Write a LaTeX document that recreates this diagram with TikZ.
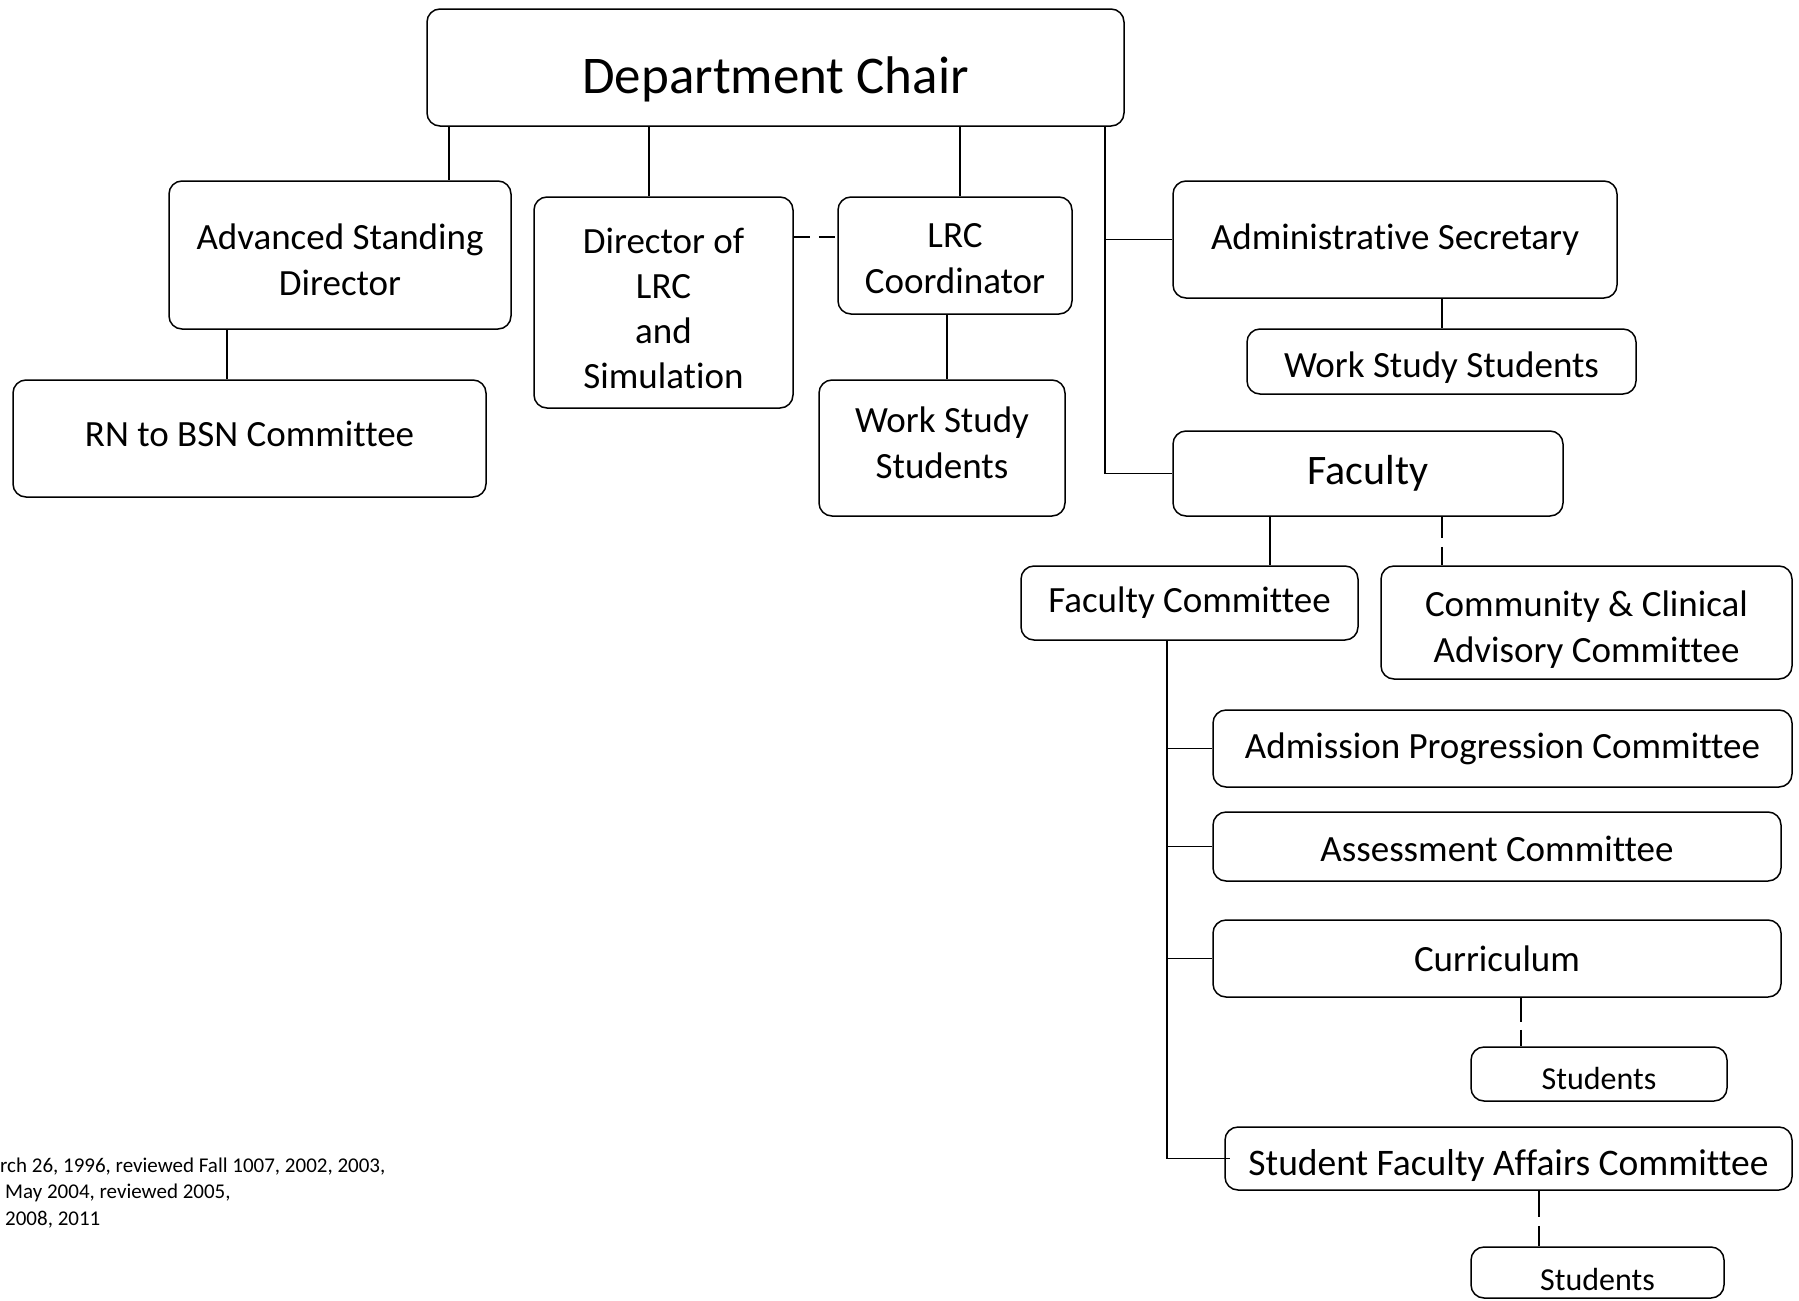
\documentclass[tikz,border=0pt]{standalone}
\usepackage{fontspec}
\setmainfont{Carlito}[Ligatures=NoCommon]
\usetikzlibrary{calc}
\newcommand\tdn[1]{\rule{0pt}{#1}}
\newcommand\tup[1]{\rule[-#1]{0pt}{0pt}}
\tikzset{
  box/.style={draw, line width=1.5pt, rounded corners=13pt, align=center, inner sep=2pt,
    font=\fontsize{37}{46}\selectfont},
  conn/.style={line width=1.5pt},
  dconn/.style={line width=1.5pt, dash pattern=on 21pt off 9pt},
  note/.style={anchor=west, inner sep=0pt, font=\fontsize{21}{26}\selectfont}
}
\begin{document}
\begin{tikzpicture}[x=1pt,y=-1pt]
\useasboundingbox (0,0) rectangle (1799,1301);
% nodes
\node[box, minimum width=697pt, minimum height=117pt, font=\fontsize{53}{60}\selectfont] (chair) at (775.5,67.5) {\tdn{60pt}Department Chair};
\node[box, minimum width=342pt, minimum height=148pt] (adv) at (340,255) {\tdn{35pt}Advanced Standing\\Director};
\node[box, minimum width=259pt, minimum height=211pt, font=\fontsize{37}{45}\selectfont] (dir) at (663.5,302.5) {\tdn{37.5pt}Director of\\LRC\\and\\Simulation};
\node[box, minimum width=234pt, minimum height=117pt] (lrc) at (955,255.5) {\tdn{31pt}LRC\\Coordinator};
\node[box, minimum width=444pt, minimum height=117pt] (admin) at (1395,239.5) {Administrative Secretary};
\node[box, minimum width=389pt, minimum height=65pt] (wss2) at (1441.5,361.5) {\tdn{37.5pt}Work Study Students};
\node[box, minimum width=473pt, minimum height=117pt] (rn) at (249.5,438.5) {RN to BSN Committee\tup{9pt}};
\node[box, minimum width=246pt, minimum height=136pt] (wss1) at (942,448) {Work Study\\Students\tup{11.5pt}};
\node[box, minimum width=390pt, minimum height=85pt, font=\fontsize{42}{50}\selectfont] (fac) at (1368,473.5) {Faculty};
\node[box, minimum width=337pt, minimum height=74pt] (faccom) at (1189.5,603) {Faculty Committee};
\node[box, minimum width=411pt, minimum height=113pt] (comm) at (1586.5,622.5) {\tdn{40pt}Community \& Clinical\\Advisory Committee};
\node[box, minimum width=579pt, minimum height=77pt] (adm) at (1502.5,748.5) {Admission Progression Committee};
\node[box, minimum width=568pt, minimum height=69pt] (assess) at (1497,846.5) {\tdn{30.5pt}Assessment Committee};
\node[box, minimum width=568pt, minimum height=77pt] (curr) at (1497,958.5) {Curriculum};
\node[box, minimum width=256pt, minimum height=54pt, font=\fontsize{32}{38}\selectfont] (stu1) at (1599,1074) {\tdn{31.5pt}Students};
\node[box, minimum width=567pt, minimum height=63pt, font=\fontsize{37.5}{46}\selectfont] (sfac) at (1508.5,1158.5) {\tdn{40pt}Student Faculty Affairs Committee};
\node[box, minimum width=253pt, minimum height=51pt, font=\fontsize{32}{38}\selectfont] (stu2) at (1597.5,1272.5) {\tdn{36pt}Students};
% footnote
\node[note] (n1) at (0,1167) {rch 26, 1996, reviewed Fall 1007, 2002, 2003,};
\node[note] (n2) at (5,1193) {May 2004, reviewed 2005,};
\node[note] (n3) at (5,1220) {2008, 2011};
% helper coordinates
\coordinate (x1) at (449,0);
\coordinate (x2) at (649,0);
\coordinate (x3) at (960,0);
\coordinate (x4) at (1105,0);
\coordinate (x5) at (227,0);
\coordinate (x6) at (947,0);
\coordinate (x7) at (1442,0);
\coordinate (x8) at (1270,0);
\coordinate (x9) at (1167,0);
\coordinate (x10) at (1521,0);
\coordinate (x11) at (1539,0);
\coordinate (y1) at (0,237);
% connectors
\draw[conn] (chair.south -| x1) -- (adv.north -| x1);
\draw[conn] (chair.south -| x2) -- (dir.north -| x2);
\draw[conn] (chair.south -| x3) -- (lrc.north -| x3);
\draw[conn] (chair.south -| x4) |- (fac.west);
\draw[conn] (admin.west) -- (admin.west -| x4);
\draw[conn] (adv.south -| x5) -- (rn.north -| x5);
\draw[dconn, dash pattern=on 16pt off 9pt] (dir.east |- y1) -- (lrc.west |- y1);
\draw[conn] (lrc.south -| x6) -- (wss1.north -| x6);
\draw[conn] (admin.south -| x7) -- (wss2.north -| x7);
\draw[conn] (fac.south -| x8) -- (faccom.north -| x8);
\draw[dconn] (fac.south -| x7) -- (comm.north -| x7);
\draw[conn] (faccom.south -| x9) -- (sfac.west -| x9) -- ($(sfac.west)+(6,0)$);
\draw[conn] (adm.west -| x9) -- (adm.west);
\draw[conn] (assess.west -| x9) -- (assess.west);
\draw[conn] (curr.west -| x9) -- (curr.west);
\draw[dconn, dash pattern=on 24pt off 8pt] (curr.south -| x10) -- (stu1.north -| x10);
\draw[dconn, dash pattern=on 26pt off 9pt] (sfac.south -| x11) -- (stu2.north -| x11);
\end{tikzpicture}
\end{document}
